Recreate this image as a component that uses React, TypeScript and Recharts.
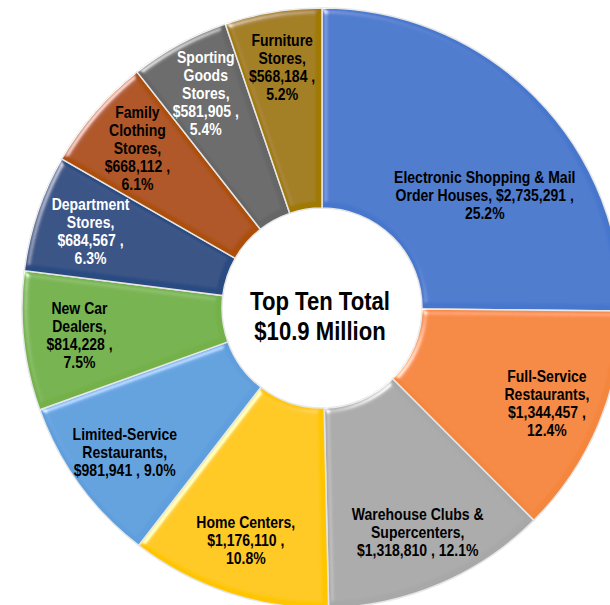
import React from "react";
import { PieChart, Pie, Cell } from "recharts";

// top ten retail categories, clockwise from 12 o'clock
const categories = [
  "Electronic Shopping & Mail\nOrder Houses",
  "Full-Service\nRestaurants",
  "Warehouse Clubs &\nSupercenters",
  "Home Centers",
  "Limited-Service\nRestaurants",
  "New Car\nDealers",
  "Department\nStores",
  "Family\nClothing\nStores",
  "Sporting\nGoods\nStores",
  "Furniture\nStores",
];
const sales = [
  2735291, 1344457, 1318810, 1176110, 981941, 814228, 684567, 668112, 581905,
  568184,
];
// how the value / percent lines follow the name: 0 = own lines, 1 = one line, 2 = value on last name line
const tailStyle = [2, 0, 1, 0, 1, 0, 0, 0, 0, 0];
const colors = [
  "#4777CC",
  "#F4863C",
  "#A8A8A8",
  "#FFC600",
  "#5E9FDD",
  "#74B149",
  "#2A4B82",
  "#AC500F",
  "#666666",
  "#A07A00",
];
const labelColors = [
  "#000",
  "#000",
  "#000",
  "#000",
  "#000",
  "#000",
  "#fff",
  "#000",
  "#fff",
  "#000",
];
const centerLines = ["Top Ten Total", "$10.9 Million"];

const total = sales.reduce((a, b) => a + b, 0);
const data = categories.map((name, i) => ({ name, value: sales[i] }));

// no Arial Narrow here, so squeeze Liberation Sans horizontally
const FONT = "'Liberation Sans', Arial, sans-serif";
const SQUEEZE = 0.85;
const RADIAN = Math.PI / 180;

const fmt = (v: number) => "$" + v.toLocaleString("en-US");

function buildLines(i: number) {
  const names = categories[i].split("\n");
  const v = fmt(sales[i]);
  const p = ((sales[i] / total) * 100).toFixed(1) + "%";
  const lines = names.slice(0, -1);
  const last = names[names.length - 1];
  if (tailStyle[i] === 2) {
    lines.push(last + ",  " + v + " ,", p);
  } else if (tailStyle[i] === 1) {
    lines.push(last + ",", v + " , " + p);
  } else {
    lines.push(last + ",", v + " ,", p);
  }
  return lines;
}

const renderLabel = (props: any) => {
  const { cx, cy, midAngle, innerRadius, outerRadius, index } = props;
  // the big slice keeps its label a bit nearer the hole and lower
  const big = index === 0;
  const r = big
    ? innerRadius + 0.49 * (outerRadius - innerRadius)
    : innerRadius + 0.72 * (outerRadius - innerRadius);
  const ang = big ? midAngle - 10 : midAngle;
  const x = cx + r * Math.cos(-ang * RADIAN);
  const y = cy + r * Math.sin(-ang * RADIAN);
  const lines = buildLines(index);
  const lh = 18;
  return (
    <g transform={`translate(${x},${y}) scale(${SQUEEZE},1)`}>
      <text
        x={0}
        y={0}
        textAnchor="middle"
        fill={labelColors[index]}
        style={{ fontFamily: FONT, fontWeight: 700, fontSize: 16.5 }}
      >
        {lines.map((l, k) => (
          <tspan key={k} x={0} y={(k - (lines.length - 1) / 2) * lh} dy="0.36em">
            {l}
          </tspan>
        ))}
      </text>
    </g>
  );
};

export default function App() {
  return (
    <div style={{ position: "absolute", left: 0, top: 0, width: 610, height: 605, background: "#fff" }}>
      <PieChart width={610} height={605} margin={{ top: 0, right: 0, bottom: 0, left: 0 }}>
        <defs>
          <filter id="bevel" x="-5%" y="-5%" width="110%" height="110%">
            <feGaussianBlur in="SourceAlpha" stdDeviation="3" result="blur" />
            <feSpecularLighting
              in="blur"
              surfaceScale="4"
              specularConstant="0.7"
              specularExponent="28"
              lightingColor="#ffffff"
              result="spec"
            >
              <feDistantLight azimuth="225" elevation="35" />
            </feSpecularLighting>
            <feComposite in="spec" in2="SourceAlpha" operator="in" result="specIn" />
            <feComposite in="SourceGraphic" in2="specIn" operator="arithmetic" k1="0" k2="1" k3="0.8" k4="0" />
          </filter>
        </defs>
        <Pie
          data={data}
          dataKey="value"
          nameKey="name"
          cx={322}
          cy={308}
          innerRadius={100}
          outerRadius={300}
          startAngle={90}
          endAngle={-270}
          stroke="#e6e6e6"
          strokeWidth={1.5}
          label={renderLabel}
          labelLine={false}
          isAnimationActive={false}
        >
          {data.map((d, i) => (
            <Cell key={d.name} fill={colors[i]} filter="url(#bevel)" />
          ))}
        </Pie>
        <g transform={`translate(320,308) scale(${SQUEEZE},1)`}>
          <text
            x={0}
            y={0}
            textAnchor="middle"
            style={{ fontFamily: FONT, fontWeight: 700, fontSize: 26 }}
            fill="#000"
          >
            {centerLines.map((l, k) => (
              <tspan key={k} x={0} y={-7 + k * 30} dy="0.36em">
                {l}
              </tspan>
            ))}
          </text>
        </g>
      </PieChart>
    </div>
  );
}
